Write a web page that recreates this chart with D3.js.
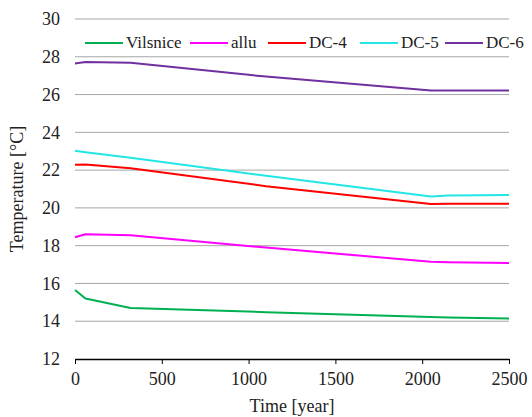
<!DOCTYPE html>
<html>
<head>
<meta charset="utf-8">
<script src="https://cdn.jsdelivr.net/npm/d3@7"></script>
<style>
  body { margin: 0; background: #fff; }
</style>
</head>
<body>
<svg id="chart" width="532" height="417" font-family="Liberation Serif, serif"></svg>
<script>
// time points (years) shared by all series
let times = [0, 60, 320, 1100, 2050, 2150, 2500];

let vilsnice = [15.65, 15.2, 14.7, 14.48, 14.22, 14.2, 14.15];
let allu = [18.45, 18.6, 18.55, 17.9, 17.15, 17.12, 17.08];
let dc4 = [22.28, 22.3, 22.1, 21.15, 20.2, 20.22, 20.22];
let dc5 = [23.02, 22.95, 22.65, 21.7, 20.6, 20.66, 20.68];
let dc6 = [27.65, 27.72, 27.68, 26.95, 26.22, 26.22, 26.22];

let seriesNames = ["Vilsnice", "allu", "DC-4", "DC-5", "DC-6"];
let seriesColors = ["#00b050", "#ff00ff", "#ff0000", "#22e6e6", "#7030a0"];

let xTicks = [0, 500, 1000, 1500, 2000, 2500];
let yTicks = [12, 14, 16, 18, 20, 22, 24, 26, 28, 30];

const FONT = "Liberation Serif, serif";

function init() {
    const svg = d3.select("#chart");
    const margin = {left: 75, top: 19, right: 23, bottom: 58};
    const width = 532 - margin.left - margin.right;
    const height = 417 - margin.top - margin.bottom;

    const x = d3.scaleLinear().domain([0, 2500]).range([0, width]);
    const y = d3.scaleLinear().domain([12, 30]).range([height, 0]);

    const g = svg.append("g")
        .attr("transform", "translate(" + margin.left + "," + margin.top + ")");

    // gridlines
    g.selectAll(".grid")
        .data(yTicks.filter(d => d !== 12))
        .enter()
        .append("line")
        .attr("x1", 0)
        .attr("x2", width)
        .attr("y1", d => y(d))
        .attr("y2", d => y(d))
        .attr("stroke", "#a6a6a6")
        .attr("stroke-width", 1);

    // y tick labels (no axis line)
    const yAxis = g.append("g")
        .call(d3.axisLeft(y).tickValues(yTicks).tickSize(0).tickPadding(15));
    yAxis.attr("font-family", FONT).attr("font-size", 18);
    yAxis.select(".domain").remove();
    yAxis.selectAll("text").attr("fill", "#222");

    // x axis
    const xAxis = g.append("g")
        .attr("transform", "translate(0," + height + ")")
        .call(d3.axisBottom(x).tickValues(xTicks).tickFormat(d3.format("d"))
            .tickSize(5).tickSizeOuter(0).tickPadding(8));
    xAxis.attr("font-family", FONT).attr("font-size", 18);
    xAxis.select(".domain").attr("stroke", "#000").attr("stroke-width", 1.3);
    xAxis.selectAll(".tick line").attr("stroke", "#000");
    xAxis.selectAll("text").attr("fill", "#222");

    // lines
    const allSeries = [vilsnice, allu, dc4, dc5, dc6];
    const line = d3.line()
        .x((d, i) => x(times[i]))
        .y(d => y(d));
    allSeries.forEach((s, i) => {
        g.append("path")
            .datum(s)
            .attr("fill", "none")
            .attr("stroke", seriesColors[i])
            .attr("stroke-width", 2)
            .attr("stroke-linejoin", "round")
            .attr("d", line);
    });

    // legend
    const legendX = [10, 115, 193, 285, 370];
    const legendY = 24;
    seriesNames.forEach((name, i) => {
        const lg = g.append("g").attr("transform", "translate(" + legendX[i] + "," + legendY + ")");
        lg.append("line")
            .attr("x1", 0).attr("x2", 38)
            .attr("y1", 0).attr("y2", 0)
            .attr("stroke", seriesColors[i])
            .attr("stroke-width", 2);
        lg.append("text")
            .attr("x", 41)
            .attr("y", 5)
            .attr("font-family", FONT)
            .attr("font-size", 17)
            .attr("fill", "#222")
            .text(name);
    });

    // axis titles
    svg.append("text")
        .attr("transform", "translate(23," + (margin.top + height / 2) + ") rotate(-90)")
        .attr("text-anchor", "middle")
        .attr("font-family", FONT)
        .attr("font-size", 18)
        .attr("fill", "#222")
        .text("Temperature [°C]");

    svg.append("text")
        .attr("x", margin.left + width / 2)
        .attr("y", 412)
        .attr("text-anchor", "middle")
        .attr("font-family", FONT)
        .attr("font-size", 18)
        .attr("fill", "#222")
        .text("Time [year]");
}

window.onload = function () {
    init();
};
</script>
</body>
</html>
